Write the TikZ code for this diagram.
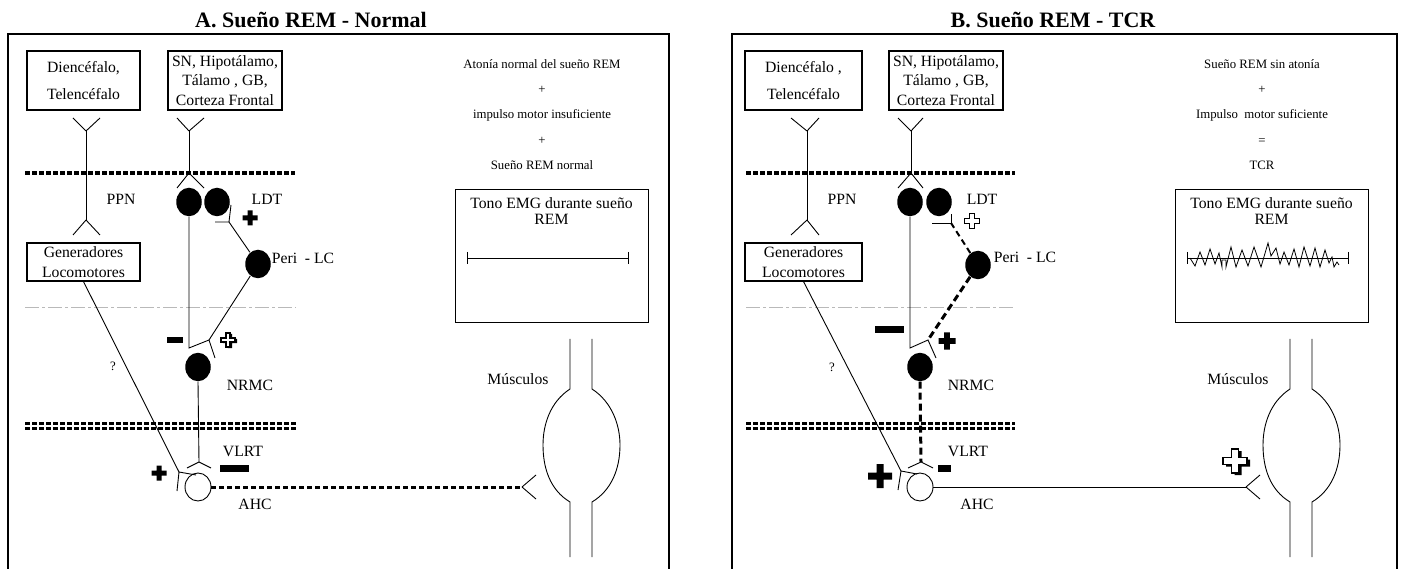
\documentclass[tikz,border=0pt]{standalone}
\usepackage{fontspec}
\setmainfont{Liberation Serif}
\usetikzlibrary{shapes.geometric}
\tikzset{
every picture/.style={
line width=0.9pt
}}
\newcommand{\tamnormal}{\fontsize{15.7}{19.5}\selectfont}
\newcommand{\tampeq}{\fontsize{12.8}{25.25}\selectfont}
\newcommand{\tamtit}{\fontsize{22}{26}\selectfont\bfseries}
% signo mas: centro, medio largo, medio ancho
\newcommand{\plusmark}[4][fill=black]{%
\path[#1] (#2) ++(-#3,-#4) -- ++({#3-#4},0) -- ++(0,{-(#3-#4)}) -- ++({2*#4},0)
 -- ++(0,{#3-#4}) -- ++({#3-#4},0) -- ++(0,{2*#4}) -- ++({-(#3-#4)},0)
 -- ++(0,{#3-#4}) -- ++({-2*#4},0) -- ++(0,{-(#3-#4)}) -- ++({-(#3-#4)},0) -- cycle;}

\begin{document}
\begin{tikzpicture}[x=1pt, y=-1pt,
caja/.style = {rectangle, draw=black, line width=1.1pt, align=center, inner sep=1pt, font=\tamnormal},
etiq/.style = {font=\tamnormal, inner sep=0pt},
nota/.style = {font=\tampeq, align=center, inner sep=0pt},
neurona/.style = {ellipse, fill=black, minimum width=25.5, minimum height=28.5, inner sep=0pt},
motoneurona/.style = {ellipse, draw=black, fill=white, minimum width=26, minimum height=28, inner sep=0pt},
marco/.style = {line width=1.2pt},
membrana/.style = {line width=3.5pt, dash pattern=on 5pt off 2pt},
membrana2/.style = {line width=2.8pt, dash pattern=on 5pt off 2pt},
gris/.style = {gray!55, line width=0.7pt, dash pattern=on 14pt off 3pt on 3pt off 3pt},
axonpunt/.style = {line width=3pt, dash pattern=on 5pt off 3pt},
dashgrueso/.style = {line width=3pt, dash pattern=on 7pt off 4pt},
dashmedio/.style = {line width=2pt, dash pattern=on 6pt off 4pt},
hueco/.style = {fill=white, draw=black, line width=1.6pt}]
\useasboundingbox (0,0) rectangle (1403,569);

%%%%%%%%%% A. normal
\node[font=\tamtit] (titA) at (311,20) {A. Sueño REM - Normal};
\draw[marco] (8,569) -- (8,34) -- (669,34) -- (669,569);

\node[caja, minimum width=113, minimum height=59] (dienA) at (83.5,80.5) {Diencéfalo,\\[8pt]Telencéfalo};
\node[caja, minimum width=114, minimum height=59] (snA) at (225,80.5) {SN, Hipotálamo,\\Tálamo , GB,\\Corteza Frontal};
\node[caja, minimum width=113, minimum height=38] (genA) at (83.5,262) {Generadores\\Locomotores};

\draw[membrana] (25,173) -- (295,173);
\draw[gris] (25,307) -- (296,307);
\draw[membrana2] (25,423.5) -- (296,423.5);
\draw[membrana2] (25,428.5) -- (296,428.5);

\node[neurona] (ppnA) at (189,202) {};
\node[neurona] (ldtA) at (217,202) {};
\node[neurona] (periA) at (258,264) {};
\node[neurona] (nrmcA) at (198,367) {};
\node[motoneurona] (ahcA) at (198,487) {};

\node[etiq] (lppnA) at (121,199) {PPN};
\node[etiq] (lldtA) at (267,199) {LDT};
\node[etiq] (lperiA) at (303,258) {Peri\ \ - LC};
\node[etiq] (lnrmcA) at (250,385) {NRMC};
\node[etiq] (lvlrtA) at (243,451) {VLRT};
\node[etiq] (lahcA) at (255,504) {AHC};
\node[nota] (preguntaA) at (113,366) {?};

% vias
\coordinate (d1A) at (86,131);
\coordinate (d2A) at (86,220);
\draw (d1A) -- ++(-13,-13) (d1A) -- ++(14,-13);
\draw (d1A) -- (d2A);
\draw (d2A) -- ++(-13,15) (d2A) -- ++(14,15);
\coordinate (s1A) at (189,131);
\coordinate (s2A) at (189,173);
\draw (s1A) -- ++(-12,-13) (s1A) -- ++(15,-13);
\draw (s1A) -- (s2A);
\draw (s2A) -- ++(-12,15) (s2A) -- ++(15,15);
\coordinate (n1A) at (189,348);
\coordinate (n2A) at (209,340);
\draw (ppnA.south) -- (n1A) -- (n2A) -- ++(6,18);
\draw (periA) -- (n2A);
\coordinate (l1A) at (229,222);
\draw (periA) -- (l1A);
\draw (l1A) -- ++(2,-17) (l1A) -- ++(-14,0);
\coordinate (v1A) at (199,462);
\draw (nrmcA.south) -- (v1A);
\draw (v1A) -- ++(-12,6) (v1A) -- ++(12,6);
\coordinate (g1A) at (179,472);
\draw (genA.south) -- (g1A);
\draw (g1A) -- ++(-2,19) (g1A) -- ++(17,3);
\coordinate (mA) at (522,487);
\draw[axonpunt] (ahcA.east) -- (mA);
\draw (mA) -- ++(14,-12) (mA) -- ++(14,12);

\fill (167,337) rectangle (183,343);
\fill (220,465) rectangle (249,472);
\plusmark{250,218}{7.5}{2.5}
\plusmark{230,341}{7}{2.2}
\plusmark[hueco]{228,340}{7}{2.2}
\plusmark{159,473}{7.5}{2.5}

% musculo
\node[etiq] (muscA) at (518,379) {Músculos};
\draw (570,339) -- (570,389) .. controls (550,402) and (543,425) .. (543,445) .. controls (543,468) and (550,490) .. (570,502) -- (570,557);
\draw (592,339) -- (592,389) .. controls (612,402) and (620,425) .. (620,445) .. controls (620,468) and (612,490) .. (592,502) -- (592,557);

\node[nota] (notaA) at (542,114.5) {Atonía normal del sueño REM\\+\\impulso motor insuficiente\\+\\Sueño REM normal};
\node[draw, line width=1.1pt, minimum width=193, minimum height=133, anchor=north west] (tonoA) at (455,189) {};
\node[etiq, align=center, font=\fontsize{15.7}{16.5}\selectfont, anchor=north] (tonotA) at (551.5,197) {Tono EMG durante sueño\\REM};
\draw (467,258) -- (628,258);
\draw (467,252) -- (467,264) (628,252) -- (628,264);

%%%%%%%%%% B. TCR
\node[font=\tamtit] (titB) at (1053,20) {B. Sueño REM - TCR};
\draw[marco] (732,569) -- (732,34) -- (1397,34) -- (1397,569);

\node[caja, minimum width=117, minimum height=59] (dienB) at (803.5,80.5) {Diencéfalo ,\\[8pt]Telencéfalo};
\node[caja, minimum width=114, minimum height=59] (snB) at (946,80.5) {SN, Hipotálamo,\\Tálamo , GB,\\Corteza Frontal};
\node[caja, minimum width=117, minimum height=38] (genB) at (803.5,262) {Generadores\\Locomotores};

\draw[membrana] (746,173) -- (1015,173);
\draw[gris] (746,307) -- (1015,307);
\draw[membrana2] (746,423.5) -- (1015,423.5);
\draw[membrana2] (746,428.5) -- (1015,428.5);

\node[neurona] (ppnB) at (910,202) {};
\node[neurona] (ldtB) at (939,202) {};
\node[neurona] (periB) at (978,265) {};
\node[neurona] (nrmcB) at (920,367) {};
\node[motoneurona] (ahcB) at (920,487) {};

\node[etiq] (lppnB) at (842,199) {PPN};
\node[etiq] (lldtB) at (982,199) {LDT};
\node[etiq] (lperiB) at (1025,257) {Peri\ \ - LC};
\node[etiq] (lnrmcB) at (971,385) {NRMC};
\node[etiq] (lvlrtB) at (968,451) {VLRT};
\node[etiq] (lahcB) at (977,504) {AHC};
\node[nota] (preguntaB) at (832,367) {?};

% vias
\coordinate (d1B) at (807,131);
\coordinate (d2B) at (807,220);
\draw (d1B) -- ++(-16,-13) (d1B) -- ++(12,-13);
\draw (d1B) -- (d2B);
\draw (d2B) -- ++(-16,15) (d2B) -- ++(12,15);
\coordinate (s1B) at (911,131);
\coordinate (s2B) at (911,173);
\draw (s1B) -- ++(-13,-13) (s1B) -- ++(12,-13);
\draw (s1B) -- (s2B);
\draw (s2B) -- ++(-13,15) (s2B) -- ++(12,15);
\coordinate (n1B) at (910,348);
\coordinate (n2B) at (928,340);
\draw (ppnB.south) -- (n1B) -- (n2B) -- ++(8,18);
\draw[dashgrueso] (periB) -- (n2B);
\coordinate (l1B) at (951,223);
\draw[dashmedio] (periB) -- (l1B);
\draw (l1B) -- ++(0,-9) (l1B) -- ++(-19,0);
\coordinate (v1B) at (921,462);
\draw[dashgrueso] (nrmcB.south) -- (v1B);
\draw (v1B) -- ++(-13,6) (v1B) -- ++(12,6);
\coordinate (g1B) at (901,471);
\draw (genB.south) -- (g1B);
\draw (g1B) -- ++(-3,19) (g1B) -- ++(16,3);
\coordinate (mB) at (1246,487);
\draw (ahcB.east) -- (mB);
\draw (mB) -- ++(14,-12) (mB) -- ++(14,12);

\fill (875,326) rectangle (904,333);
\fill (938,465) rectangle (951,472);
\plusmark[hueco]{972,221}{7.5}{2.4}
\plusmark{947,341}{8.5}{2.8}
\plusmark{880,476}{12}{3.5}
\plusmark{1238,463}{12}{3.5}
\plusmark[hueco]{1235,461}{12}{3.5}

% musculo
\node[etiq] (muscB) at (1238,379) {Músculos};
\draw (1290,339) -- (1290,389) .. controls (1270,402) and (1263,425) .. (1263,445) .. controls (1263,468) and (1270,490) .. (1290,502) -- (1290,557);
\draw (1312,339) -- (1312,389) .. controls (1332,402) and (1340,425) .. (1340,445) .. controls (1340,468) and (1332,490) .. (1312,502) -- (1312,557);

\node[nota] (notaB) at (1262,114.5) {Sueño REM sin atonía\\+\\Impulso\ \ motor suficiente\\=\\TCR};
\node[draw, line width=1.1pt, minimum width=193, minimum height=133, anchor=north west] (tonoB) at (1175,189) {};
\node[etiq, align=center, font=\fontsize{15.7}{16.5}\selectfont, anchor=north] (tonotB) at (1271.5,197) {Tono EMG durante sueño\\REM};
\draw (1187,258) -- (1348,258);
\draw (1187,252) -- (1187,264) (1348,252) -- (1348,264);
\draw[line width=0.8pt] plot coordinates {(1190,258) (1195,266) (1200,252) (1205,265) (1210,249) (1215,264) (1219,253) (1222,267) (1222,260) (1226,260) (1226,267) (1231,247) (1236,267) (1242,250) (1248,266) (1254,247) (1261,267) (1268,243) (1271,256) (1276,248) (1280,264) (1284,252) (1289,265) (1294,249) (1299,267) (1304,247) (1310,266) (1315,248) (1320,267) (1325,250) (1329,263) (1332,257) (1334,267) (1337,262) (1339,265)};

\end{tikzpicture}
\end{document}
